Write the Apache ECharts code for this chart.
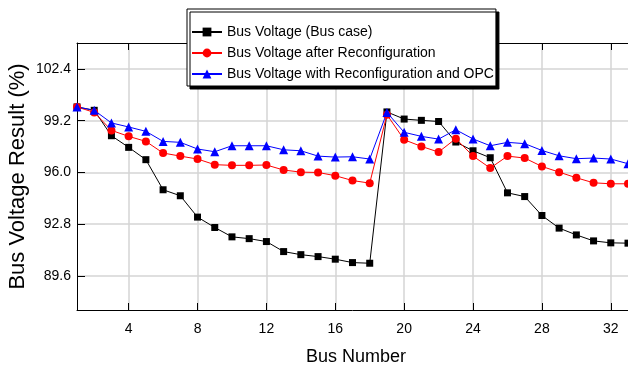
<!DOCTYPE html>
<html><head><meta charset="utf-8">
<script src="https://cdn.jsdelivr.net/npm/echarts@6/dist/echarts.min.js"></script>
<style>html,body{margin:0;padding:0;background:#fff}#c{width:628px;height:367px}</style>
</head><body><div id="c"></div>
<script>
// ---- data ----
const buses = [1,2,3,4,5,6,7,8,9,10,11,12,13,14,15,16,17,18,19,20,21,22,23,24,25,26,27,28,29,30,31,32,33];
const baseCase = [100.05,99.84,98.27,97.55,96.79,94.93,94.56,93.24,92.60,92.02,91.91,91.73,91.11,90.92,90.80,90.64,90.43,90.39,99.74,99.30,99.22,99.15,97.88,97.34,96.91,94.74,94.51,93.34,92.56,92.14,91.77,91.65,91.63];
const afterReconfig = [100.05,99.71,98.60,98.23,97.92,97.20,97.01,96.83,96.48,96.44,96.44,96.46,96.15,96.02,96.00,95.80,95.50,95.34,99.57,98.02,97.61,97.26,98.09,97.01,96.27,97.01,96.89,96.37,96.02,95.67,95.36,95.30,95.30];
const withOPC = [100.05,99.84,99.06,98.81,98.54,97.92,97.86,97.45,97.28,97.65,97.65,97.65,97.40,97.34,97.01,96.95,96.97,96.83,99.71,98.48,98.23,98.06,98.64,98.07,97.65,97.86,97.78,97.36,97.03,96.85,96.89,96.83,96.54];
const seriesNames = ['Bus Voltage (Bus case)','Bus Voltage after Reconfiguration','Bus Voltage with Reconfiguration and OPC'];
const xTicks = [4,8,12,16,20,24,28,32];
const yTicks = [89.6,92.8,96.0,99.2,102.4];
const xTitle = 'Bus Number';
const yTitle = 'Bus Voltage Result (%)';

const REG = '"Liberation Sans",Arial,sans-serif';
const pairs = vals => buses.map((b,i)=>[b, vals[i]]);
const chart = echarts.init(document.getElementById('c'), null, {renderer:'canvas'});
const gridLine = {show:true, lineStyle:{color:'#d4d4d4', width:1.5}};
chart.setOption({
  animation:false,
  backgroundColor:'#fff',
  grid:{left:77, right:0, top:43, bottom:57, containLabel:false, outerBoundsMode:'none'},
  legend:{
    orient:'vertical', left:187, top:9,
    padding:[16,2,5,4],
    itemWidth:30, itemHeight:11, itemGap:7,
    backgroundColor:'#fff', borderColor:'#000', borderWidth:1,
    shadowColor:'#000', shadowBlur:0, shadowOffsetX:3, shadowOffsetY:3,
    textStyle:{fontFamily:REG, fontSize:14, color:'#000'},
    data:seriesNames
  },
  xAxis:[{
    type:'value', min:1, max:33, position:'bottom',
    axisLine:{show:true, lineStyle:{color:'#000', width:1}},
    axisTick:{show:true, inside:true, length:7, customValues:xTicks, lineStyle:{color:'#000'}},
    axisLabel:{customValues:xTicks, margin:12, color:'#000', fontFamily:REG, fontSize:14},
    splitLine:gridLine
  },{
    type:'value', min:1, max:33, position:'top',
    axisLine:{show:true, lineStyle:{color:'#000', width:1}},
    axisTick:{show:true, inside:true, length:7, customValues:xTicks, lineStyle:{color:'#000'}},
    axisLabel:{show:false}, splitLine:{show:false}
  }],
  yAxis:[{
    type:'value', min:87.5, max:104,
    axisLine:{show:true, lineStyle:{color:'#000', width:1}},
    axisTick:{show:true, inside:true, length:8, customValues:yTicks, lineStyle:{color:'#000'}},
    axisLabel:{customValues:yTicks, margin:6, color:'#000', fontFamily:REG, fontSize:14,
      formatter:v=>Number(v).toFixed(1)},
    splitLine:gridLine,
    name:yTitle, nameLocation:'middle', nameGap:48, nameMoveOverlap:false,
    nameTextStyle:{fontFamily:REG, fontSize:22, color:'#000'}
  }],
  graphic:[{type:'text', style:{text:xTitle, x:356, y:357, textAlign:'center', textVerticalAlign:'middle', font:'18px '+REG, fill:'#000'}}],
  series:[
    {name:seriesNames[0], type:'line', data:pairs(baseCase), symbol:'rect', symbolSize:7,
     lineStyle:{color:'#000', width:1}, itemStyle:{color:'#000'}},
    {name:seriesNames[1], type:'line', data:pairs(afterReconfig), symbol:'circle', symbolSize:8,
     lineStyle:{color:'#ff0000', width:1}, itemStyle:{color:'#ff0000'}},
    {name:seriesNames[2], type:'line', data:pairs(withOPC), symbol:'triangle', symbolSize:9,
     lineStyle:{color:'#0000ff', width:1}, itemStyle:{color:'#0000ff'}}
  ]
});
</script></body></html>
